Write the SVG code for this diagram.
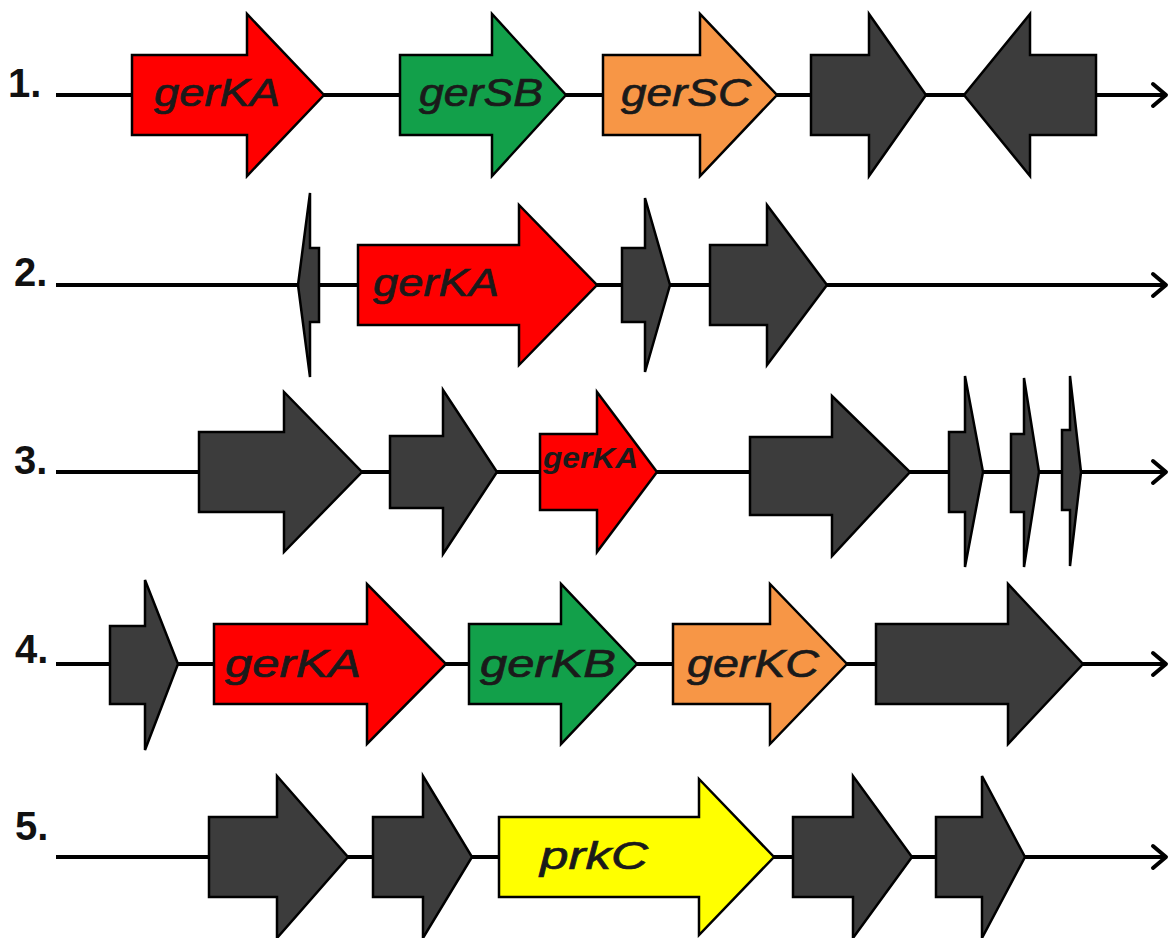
<svg xmlns="http://www.w3.org/2000/svg" width="1171" height="938" viewBox="0 0 1171 938">
<defs>
<style>
.ln{stroke:#000;stroke-width:4;fill:none}
.hd{stroke:#000;stroke-width:4;fill:none;stroke-linecap:round;stroke-linejoin:round}
.g{stroke:#000;stroke-width:2.5;stroke-linejoin:miter}
.gray{fill:#3c3c3c}
.red{fill:#ff0000}
.green{fill:#12a04a}
.orange{fill:#f79646}
.yellow{fill:#ffff00}
.num{font-family:"Liberation Sans",Arial,sans-serif;font-weight:bold;font-size:40px;fill:#111}
.lab{font-family:"Liberation Sans",Arial,sans-serif;font-style:italic;font-size:39px;fill:#1a1a1a;stroke:#1a1a1a;stroke-width:0.7;text-anchor:middle}
.labs{font-family:"Liberation Sans",Arial,sans-serif;font-style:italic;font-weight:bold;font-size:30px;fill:#1a1a1a}
</style>
</defs>
<g id="connectors">
<line class="ln" x1="56" y1="95" x2="1166" y2="95"/><polyline class="hd" points="1153,84 1166,95 1153,106"/>
<line class="ln" x1="56" y1="285" x2="1166" y2="285"/><polyline class="hd" points="1153,274 1166,285 1153,296"/>
<line class="ln" x1="56" y1="472" x2="1166" y2="472"/><polyline class="hd" points="1153,461 1166,472 1153,483"/>
<line class="ln" x1="56" y1="664" x2="1166" y2="664"/><polyline class="hd" points="1153,653 1166,664 1153,675"/>
<line class="ln" x1="56" y1="857" x2="1166" y2="857"/><polyline class="hd" points="1153,846 1166,857 1153,868"/>
</g>
<g id="labels">
<text class="num" x="8" y="97">1.</text>
<text class="num" x="14" y="286">2.</text>
<text class="num" x="14" y="474">3.</text>
<text class="num" x="15" y="663">4.</text>
<text class="num" x="15" y="840">5.</text>
</g>
<!-- Row 1 -->
<g id="r1-gerKA"><polygon class="g red" points="132,55 247,55 247,14 324,95 247,176 247,135 132,135"/><text class="lab" x="217" y="106" textLength="126" lengthAdjust="spacingAndGlyphs">gerKA</text></g>
<g id="r1-gerSB"><polygon class="g green" points="400,55 492,55 492,14 566,95 492,176 492,135 400,135"/><text class="lab" x="481" y="106" textLength="124" lengthAdjust="spacingAndGlyphs">gerSB</text></g>
<g id="r1-gerSC"><polygon class="g orange" points="603,55 700,55 700,14 777,95 700,176 700,135 603,135"/><text class="lab" x="686" y="106" textLength="130" lengthAdjust="spacingAndGlyphs">gerSC</text></g>
<g id="r1-g4"><polygon class="g gray" points="811,55 869,55 869,14 926,95 869,176 869,135 811,135"/></g>
<g id="r1-g5"><polygon class="g gray" points="1096,55 1030,55 1030,14 964,95 1030,176 1030,135 1096,135"/></g>
<!-- Row 2 -->
<g id="r2-g1"><polygon class="g gray" points="319,248 310,248 310,193 298,285 310,377 310,322 319,322"/></g>
<g id="r2-gerKA"><polygon class="g red" points="358,245 519,245 519,205 597,285 519,365 519,325 358,325"/><text class="lab" x="436" y="296" textLength="126" lengthAdjust="spacingAndGlyphs">gerKA</text></g>
<g id="r2-g3"><polygon class="g gray" points="622,248 645,248 645,198 670,285 645,372 645,322 622,322"/></g>
<g id="r2-g4"><polygon class="g gray" points="710,245 767,245 767,205 827,285 767,365 767,325 710,325"/></g>
<!-- Row 3 -->
<g id="r3-g1"><polygon class="g gray" points="199,432 284,432 284,392 362,472 284,552 284,512 199,512"/></g>
<g id="r3-g2"><polygon class="g gray" points="390,436 443,436 443,390 497,472 443,554 443,508 390,508"/></g>
<g id="r3-gerKA"><polygon class="g red" points="540,434 597,434 597,392 657,472 597,552 597,510 540,510"/><text class="labs" x="543" y="468" textLength="95" lengthAdjust="spacingAndGlyphs">gerKA</text></g>
<g id="r3-g4"><polygon class="g gray" points="750,437 832,437 832,396 910,472 832,556 832,515 750,515"/></g>
<g id="r3-g5"><polygon class="g gray" points="949,432 965,432 965,376 983,472 965,567 965,512 949,512"/></g>
<g id="r3-g6"><polygon class="g gray" points="1011,434 1024,434 1024,378 1039,472 1024,567 1024,512 1011,512"/></g>
<g id="r3-g7"><polygon class="g gray" points="1062,430 1070,430 1070,376 1081,472 1070,566 1070,510 1062,510"/></g>
<!-- Row 4 -->
<g id="r4-g1"><polygon class="g gray" points="110,626 145,626 145,580 178,664 145,750 145,704 110,704"/></g>
<g id="r4-gerKA"><polygon class="g red" points="214,624 367,624 367,584 446,664 367,744 367,704 214,704"/><text class="lab" x="293" y="677" textLength="136" lengthAdjust="spacingAndGlyphs">gerKA</text></g>
<g id="r4-gerKB"><polygon class="g green" points="469,624 561,624 561,584 637,664 561,744 561,704 469,704"/><text class="lab" x="548" y="677" textLength="136" lengthAdjust="spacingAndGlyphs">gerKB</text></g>
<g id="r4-gerKC"><polygon class="g orange" points="673,624 770,624 770,584 847,664 770,744 770,704 673,704"/><text class="lab" x="753" y="677" textLength="132" lengthAdjust="spacingAndGlyphs">gerKC</text></g>
<g id="r4-g5"><polygon class="g gray" points="876,624 1008,624 1008,584 1083,664 1008,744 1008,704 876,704"/></g>
<!-- Row 5 -->
<g id="r5-g1"><polygon class="g gray" points="209,817 277,817 277,776 348,857 277,938 277,897 209,897"/></g>
<g id="r5-g2"><polygon class="g gray" points="373,817 423,817 423,776 472,857 423,938 423,897 373,897"/></g>
<g id="r5-prkC"><polygon class="g yellow" points="499,817 699,817 699,779 774,857 699,935 699,897 499,897"/><text class="lab" x="594" y="869" textLength="108" lengthAdjust="spacingAndGlyphs">prkC</text></g>
<g id="r5-g4"><polygon class="g gray" points="793,817 853,817 853,776 912,857 853,938 853,897 793,897"/></g>
<g id="r5-g5"><polygon class="g gray" points="936,817 982,817 982,776 1025,857 982,938 982,897 936,897"/></g>
</svg>
